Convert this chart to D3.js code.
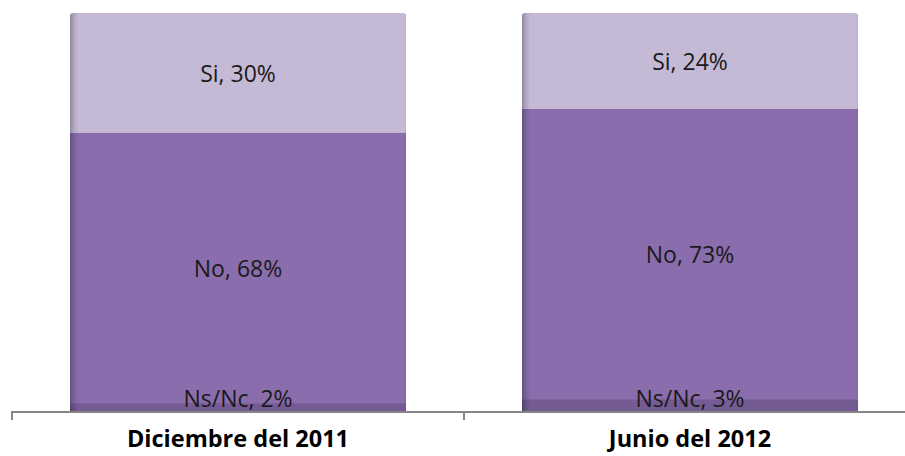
<!DOCTYPE html>
<html>
<head>
<meta charset="utf-8">
<script src="https://cdn.jsdelivr.net/npm/d3@7"></script>
<style>
  body { margin: 0; background: #fff; }
  text { font-family: "Open Sans", sans-serif; }
</style>
</head>
<body>
<svg id="chart" width="905" height="456"></svg>
<script>
// data
const periods = ["Diciembre del 2011", "Junio del 2012"];
const answers = ["Ns/Nc", "No", "Si"];          // bottom to top
const nsnc = [2, 3];
const no = [68, 73];
const si = [30, 24];
const colors = ["#745b93", "#8a6dac", "#c5bad6"];

const rows = periods.map((p, i) => ({ period: p, "Ns/Nc": nsnc[i], "No": no[i], "Si": si[i] }));

const svg = d3.select("#chart");
const W = 905, H = 456;
const m = { left: 12, right: -11, top: 13, bottom: 45 };

// the 2nd band runs past the right edge like in the original
const x = d3.scaleBand().domain(periods)
    .range([m.left, W - m.right]).paddingInner(0).paddingOuter(0);
const bw = 336;
const y = d3.scaleLinear().domain([0, 100]).range([H - m.bottom, m.top]);

const series = d3.stack().keys(answers)(rows);

// gradients for left edge shading
const defs = svg.append("defs");
colors.forEach((c, i) => {
    let g = defs.append("linearGradient").attr("id", "g" + i)
        .attr("x1", "0").attr("x2", "1").attr("y1", "0").attr("y2", "0");
    g.append("stop").attr("offset", "0").attr("stop-color", d3.color(c).darker(0.9));
    g.append("stop").attr("offset", "0.012").attr("stop-color", d3.color(c).darker(0.3));
    g.append("stop").attr("offset", "0.025").attr("stop-color", c);
    g.append("stop").attr("offset", "0.995").attr("stop-color", c);
    g.append("stop").attr("offset", "1").attr("stop-color", d3.color(c).darker(0.2));
});

const layer = svg.selectAll("g.layer").data(series).enter().append("g").attr("class", "layer");

layer.selectAll("rect").data((d, i) => d.map(v => ({ v, i })))
    .enter().append("rect")
    .attr("x", d => x(d.v.data.period) + (x.bandwidth() - bw) / 2)
    .attr("width", bw)
    .attr("y", d => y(d.v[1]))
    .attr("height", d => y(d.v[0]) - y(d.v[1]))
    .attr("fill", d => "url(#g" + d.i + ")");

// slightly rounded top corners on the top segment
layer.filter((d, i) => i === answers.length - 1).selectAll("rect")
    .attr("rx", 3).attr("ry", 3);
layer.filter((d, i) => i === answers.length - 1).selectAll("rect.fill")
    .data(d => d).enter().append("rect")
    .attr("x", d => x(d.data.period) + (x.bandwidth() - bw) / 2)
    .attr("width", bw)
    .attr("y", d => y(d[1]) + 6)
    .attr("height", d => y(d[0]) - y(d[1]) - 6)
    .attr("fill", "url(#g" + (answers.length - 1) + ")");

// labels, drawn after all the rects
let labels = [];
series.forEach(s => s.forEach(v => labels.push({ v, key: s.key })));

svg.append("g").selectAll("text").data(labels)
    .enter().append("text")
    .attr("x", d => x(d.v.data.period) + x.bandwidth() / 2)
    .attr("y", d => Math.min((y(d.v[0]) + y(d.v[1])) / 2, y(0) - 13))
    .attr("text-anchor", "middle")
    .attr("dominant-baseline", "central")
    .attr("font-size", 23)
    .attr("fill", "#1a1a1a")
    .text(d => d.key + ", " + (d.v[1] - d.v[0]) + "%");

// axis
const axisY = y(0);
svg.append("line")
    .attr("x1", m.left - 1).attr("x2", W)
    .attr("y1", axisY + 1).attr("y2", axisY + 1)
    .attr("stroke", "#868686").attr("stroke-width", 2);

svg.selectAll("line.tick").data(periods).enter().append("line")
    .attr("class", "tick")
    .attr("x1", d => x(d)).attr("x2", d => x(d))
    .attr("y1", axisY + 1).attr("y2", axisY + 9)
    .attr("stroke", "#868686").attr("stroke-width", 2);

svg.selectAll("text.cat").data(periods).enter().append("text")
    .attr("class", "cat")
    .attr("x", d => x(d) + x.bandwidth() / 2)
    .attr("y", axisY + 36)
    .attr("text-anchor", "middle")
    .attr("font-size", 23.5)
    .attr("font-weight", "bold")
    .attr("fill", "#000")
    .text(d => d);
</script>
</body>
</html>
